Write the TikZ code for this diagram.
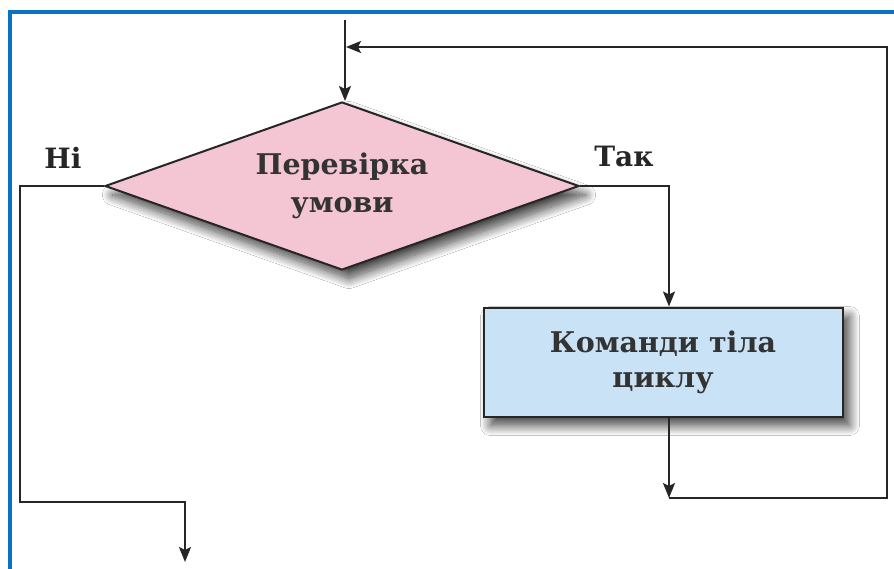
\documentclass[tikz,border=0pt]{standalone}
\usepackage{fontspec}
\setmainfont{DejaVu Serif}
\usetikzlibrary{shapes.geometric,arrows.meta,shadows.blur}

\definecolor{framecol}{HTML}{0A72C2}
\definecolor{pinkfill}{HTML}{F4C6D4}
\definecolor{bluefill}{HTML}{C9E2F5}
\definecolor{edgecol}{HTML}{262626}

\begin{document}
\begin{tikzpicture}[x=1pt,y=-1pt,
  line/.style={draw=edgecol, line width=2.2pt},
  arr/.style={line, -{Stealth[length=15pt,width=12pt,inset=3pt]}},
  txt/.style={font=\fontsize{28.5}{38}\selectfont\bfseries, text=black!80},
  lbl/.style={font=\fontsize{28}{34}\selectfont\bfseries, text=black!85},
  softshadow/.style={blur shadow={shadow xshift=7pt, shadow yshift=-9pt,
      shadow blur radius=10pt, shadow blur steps=16, shadow opacity=75}},
  decision/.style={diamond, draw=edgecol, line width=2pt, fill=pinkfill,
      minimum width=474pt, minimum height=168pt, aspect=2.82, inner sep=0pt,
      align=center, txt, softshadow},
  process/.style={rectangle, draw=edgecol, line width=2pt, fill=bluefill,
      minimum width=359pt, minimum height=109pt, inner sep=0pt,
      align=center, txt, softshadow, font=\fontsize{28.5}{35}\selectfont\bfseries}
]
  \useasboundingbox (0,0) rectangle (894,568);
  \fill[white] (0,0) rectangle (894,568);
  % outer blue frame
  \draw[framecol, line width=4pt] (10,570) -- (10,12) -- (896,12);

  % shapes
  \node[decision] (cond) at (342,186) {Перевірка\\умови};
  \node[process] (body) at (663,362) {Команди тіла\\циклу};

  % branch labels
  \node[lbl, anchor=base] (no) at (63,168) {Ні};
  \node[lbl, anchor=base] (yes) at (624,166) {Так};

  % helper points of the connectors
  \coordinate (entry) at (345,20);
  \coordinate (yesturn) at (669,186);
  \coordinate (noturn) at (20,186);
  \coordinate (nodown) at (20,502);
  \coordinate (noright) at (185,502);
  \coordinate (exit) at (185,562);
  \coordinate (loopbottom) at (669,498);
  \coordinate (loopcorner) at (887,498);
  \coordinate (looptop) at (887,47);
  \coordinate (loopend) at (346,47);

  % entry into the condition
  \draw[arr] (entry) -- (entry |- cond.north);
  % "yes" branch into the loop body
  \draw[arr] (cond.east) -- (yesturn) -- (yesturn |- body.north);
  % loop body back to the condition
  \draw[arr] (yesturn |- body.south) -- (loopbottom);
  \draw[arr] (loopbottom) -- (loopcorner) -- (looptop) -- (loopend);
  % "no" branch leaving the loop
  \draw[arr] (cond.west) -- (noturn) -- (nodown) -- (noright) -- (exit);
\end{tikzpicture}
\end{document}
